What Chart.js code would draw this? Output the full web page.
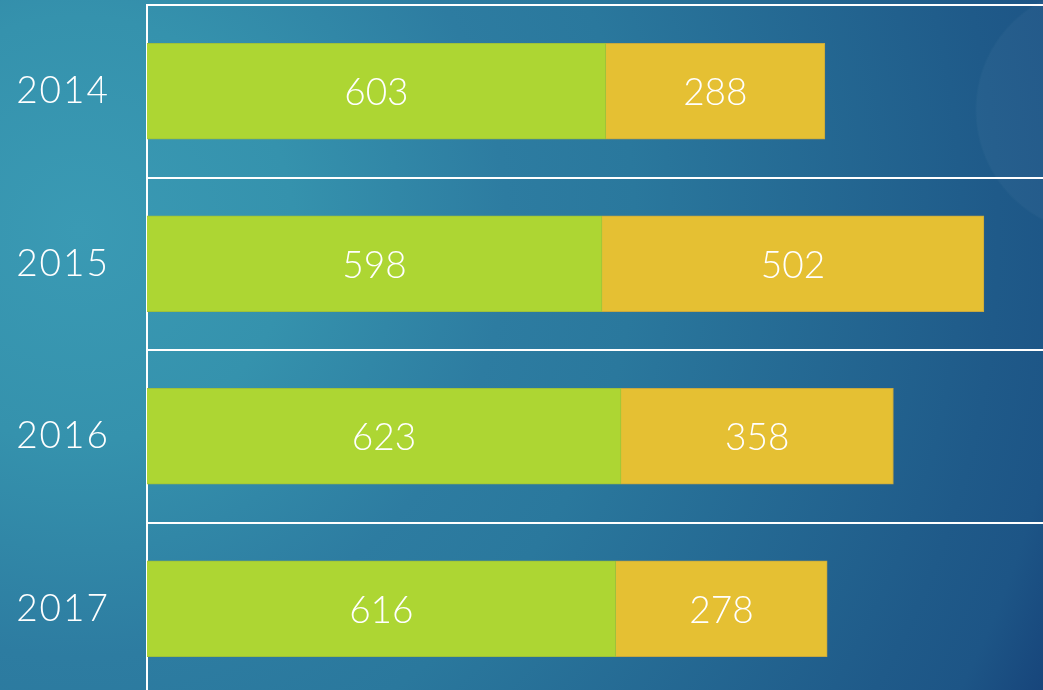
<!DOCTYPE html>
<html lang="en">

<head>
    <meta charset="UTF-8">
    <title>Stacked bars 2014-2017</title>
    <script src="https://cdn.jsdelivr.net/npm/chart.js"></script>
    <style>
        html, body {
            margin: 0;
            width: 1043px;
            height: 690px;
            overflow: hidden;
        }
        body {
            background:
                radial-gradient(circle 124px at 1099px 110px, rgba(255, 255, 255, 0.03) 122px, rgba(255, 255, 255, 0) 124px),
                radial-gradient(circle farthest-corner at 80px 230px, #3a9ab4 0%, #3592ad 20%, #2d7ca1 40%, #2a789d 52%, #1f5a89 86%, #1d5586 93%, #17457b 100%);
        }
        #chart-container {
            position: absolute;
            left: 0;
            top: 0;
            width: 1060px;
            height: 700px;
        }
    </style>
</head>

<body>
    <div id="chart-container">
        <canvas id="barChart" width="1060" height="700"></canvas>
    </div>

    <script>
        const years = ['2014', '2015', '2016', '2017'];
        const greenValues = [603, 598, 623, 616];
        const yellowValues = [288, 502, 358, 278];

        // spaced-out year labels, like the original font
        const letterSpacing = {
            id: 'letterSpacing',
            beforeDraw(chart) { chart.ctx.letterSpacing = '2px'; },
            beforeDatasetsDraw(chart) { chart.ctx.letterSpacing = '0px'; }
        };

        // white value labels in the middle of each bar
        const valueLabels = {
            id: 'valueLabels',
            afterDatasetsDraw(chart) {
                const ctx = chart.ctx;
                ctx.save();
                ctx.font = '300 37px Lato';
                ctx.fillStyle = '#ffffff';
                ctx.textAlign = 'center';
                ctx.textBaseline = 'middle';
                chart.data.datasets.forEach((ds, i) => {
                    chart.getDatasetMeta(i).data.forEach((bar, j) => {
                        const p = bar.getCenterPoint();
                        ctx.fillText(ds.data[j], p.x, p.y + 2);
                    });
                });
                ctx.restore();
            }
        };

        const ctx = document.getElementById('barChart').getContext('2d');
        const barChart = new Chart(ctx, {
            type: 'bar',
            data: {
                labels: years,
                datasets: [{
                    data: greenValues,
                    backgroundColor: '#add633',
                    borderColor: '#9fc13a',
                    borderWidth: 1,
                    barThickness: 96
                }, {
                    data: yellowValues,
                    backgroundColor: '#e5c033',
                    borderColor: '#c9a83e',
                    borderWidth: 1,
                    barThickness: 96
                }]
            },
            options: {
                indexAxis: 'y',
                responsive: false,
                animation: false,
                devicePixelRatio: 1,
                layout: {
                    padding: { top: 5, bottom: 5 }
                },
                plugins: {
                    legend: { display: false },
                    tooltip: { enabled: false }
                },
                scales: {
                    x: {
                        stacked: true,
                        min: 0,
                        max: 1200,
                        display: false
                    },
                    y: {
                        stacked: true,
                        afterFit: (scale) => {
                            scale.width = 147;
                            scale.paddingTop = 0;
                            scale.paddingBottom = 0;
                        },
                        grid: {
                            color: '#ffffff',
                            lineWidth: 2,
                            drawTicks: false
                        },
                        border: {
                            color: '#ffffff',
                            width: 2
                        },
                        ticks: {
                            color: '#ffffff',
                            padding: 37,
                            font: { family: 'Lato', size: 37, weight: 300 }
                        }
                    }
                }
            },
            plugins: [letterSpacing, valueLabels]
        });
    </script>
</body>

</html>
